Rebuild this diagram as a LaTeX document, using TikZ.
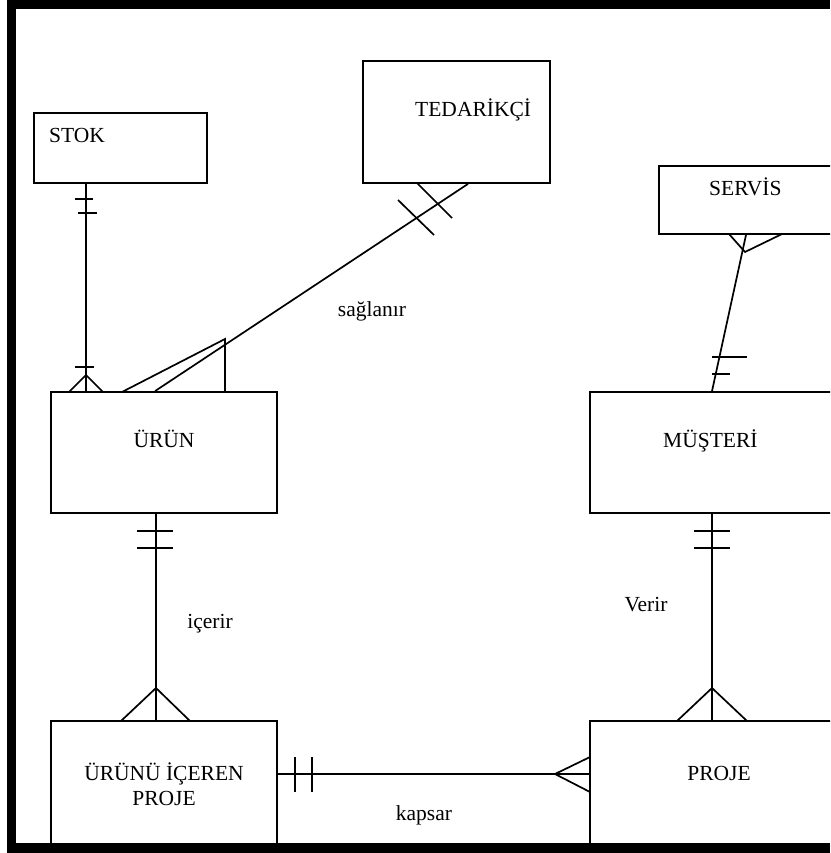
\documentclass[tikz,border=0pt]{standalone}
\usepackage{fontspec}
\setmainfont{Liberation Serif}
\usetikzlibrary{calc}
\begin{document}
\begin{tikzpicture}[x=1pt,y=-1pt,
  box/.style={draw=black,line width=1.8pt,rectangle,inner sep=0pt,fill=white},
  conn/.style={draw=black,line width=1.7pt},
  txt/.style={inner sep=0pt,font=\fontsize{21.5}{25}\selectfont}]
\useasboundingbox (0,0) rectangle (830,853);
\clip (0,0) rectangle (830,853);
\fill[white] (0,0) rectangle (830,853);
% boxes
\node[box,minimum width=173pt,minimum height=70pt] (stok) at (120.5,148) {};
\node[box,minimum width=187pt,minimum height=122pt] (tedar) at (456.5,122) {};
\node[box,minimum width=230pt,minimum height=68pt] (servis) at (774,200) {};
\node[box,minimum width=226pt,minimum height=121pt] (urun) at (164,452.5) {};
\node[box,minimum width=300pt,minimum height=121pt] (musteri) at (740,452.5) {};
\node[box,minimum width=226pt,minimum height=150pt] (urunu) at (164,796) {};
\node[box,minimum width=300pt,minimum height=150pt] (proje) at (740,796) {};
% texts
\node[txt,anchor=base west] (tstok) at (49,143) {STOK};
\node[txt,anchor=base west] (ttedar) at (415,117) {TEDARİKÇİ};
\node[txt,anchor=base west] (tservis) at (709,195) {SERVİS};
\node[txt,anchor=base] (turun) at (164,447) {ÜRÜN};
\node[txt,anchor=base west] (tmusteri) at (663,447) {MÜŞTERİ};
\node[txt,anchor=base] (turunu1) at (164,780) {ÜRÜNÜ İÇEREN};
\node[txt,anchor=base] (turunu2) at (164,805) {PROJE};
\node[txt,anchor=base] (tproje) at (719,780) {PROJE};
\node[txt,anchor=base] (lsag) at (372,316) {sağlanır};
\node[txt,anchor=base] (licer) at (210,628) {içerir};
\node[txt,anchor=base] (lverir) at (646,611) {Verir};
\node[txt,anchor=base] (lkap) at (424,820) {kapsar};
% stok - urun
\draw[conn] (stok.south -| 86,0) -- (urun.north -| 86,0);
\draw[conn] (75,199) -- (93,199);
\draw[conn] (78,213) -- (97,213);
\draw[conn] (75,367) -- (94,367);
\draw[conn] (69,392) -- (86,375) -- (103,392);
% tedarikci - urun
\draw[conn] (tedar.south -| 468,0) -- (urun.north -| 155,0);
\draw[conn] (417,183) -- (452,218);
\draw[conn] (398,200) -- (434,235);
\draw[conn] (122,392) -- (225,339) -- (225,392);
% servis - musteri
\draw[conn] (servis.south -| 746,0) -- (musteri.north -| 712,0);
\draw[conn] (729,234) -- (745,252) -- (782,234);
\draw[conn] (712,357) -- (747,357);
\draw[conn] (712,374) -- (730,374);
% urun - urunu
\draw[conn] (urun.south -| 156,0) -- (urunu.north -| 156,0);
\draw[conn] (137,531) -- (173,531);
\draw[conn] (137,548) -- (173,548);
\draw[conn] (121,721) -- (156,688) -- (190,721);
% musteri - proje
\draw[conn] (musteri.south -| 712,0) -- (proje.north -| 712,0);
\draw[conn] (694,531) -- (730,531);
\draw[conn] (694,548) -- (730,548);
\draw[conn] (677,721) -- (712,688) -- (747,721);
% urunu - proje
\draw[conn] (urunu.east |- 0,774) -- (proje.west |- 0,774);
\draw[conn] (295,757) -- (295,792);
\draw[conn] (312,757) -- (312,792);
\draw[conn] (590,757) -- (555,774) -- (590,792);
% frame
\fill[black] (7,0) rectangle (830,9);
\fill[black] (7,0) rectangle (16,853);
\fill[black] (7,843) rectangle (830,853);
\end{tikzpicture}
\end{document}
